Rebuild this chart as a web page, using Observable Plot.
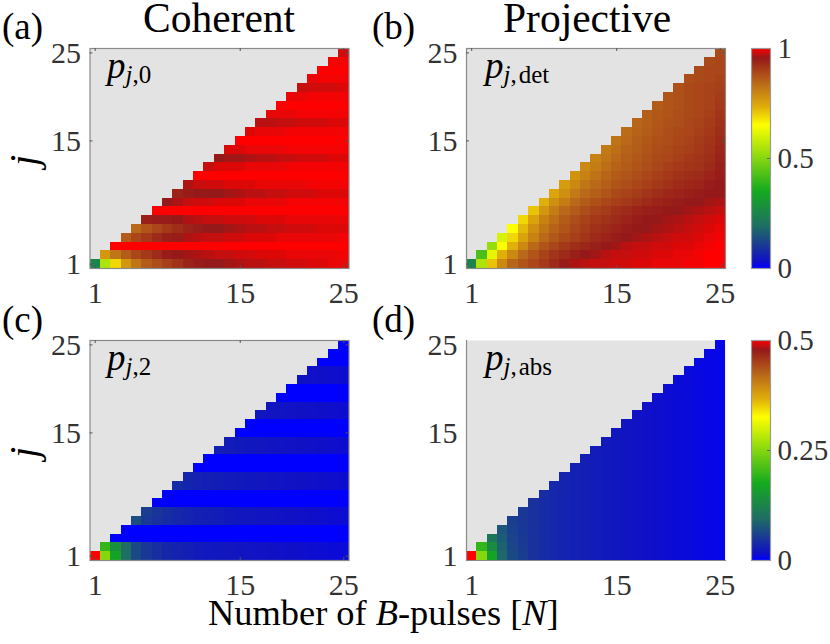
<!DOCTYPE html>
<html><head><meta charset="utf-8">
<script src="https://cdn.jsdelivr.net/npm/d3@7"></script>
<script src="https://cdn.jsdelivr.net/npm/@observablehq/plot@0.6"></script>
<style>
html,body{margin:0;padding:0;background:#fff}
#page{position:relative;width:830px;height:644px;overflow:hidden;font-family:"Liberation Serif",serif;color:#000}
#page svg{position:absolute;overflow:visible;background:transparent}
.t{position:absolute;line-height:0;white-space:nowrap}
</style></head><body><div id="page"></div>
<script>
const tickValues=[1,15,25];
const cmapStops=[0,.03,.1,.19,.35,.5,.65,.73,.84,.955,1];
const cmapColors=["#0000ff","#0f0fc8","#193796","#1e6e64","#14aa1e","#87d70f","#ffff00","#e1af0a","#b96919","#961919","#ff0000"];

const rowsA=[
[.25,.55,.69,.77,.82,.86,.88,.90,.92,.94,.95,.955,.955,.96,.965,.97,.97,.975,.975,.98,.98,.985,.985,.99,.99],
[.77,.82,.86,.89,.91,.93,.95,.955,.96,.965,.97,.975,.975,.98,.98,.985,.985,.985,.99,.99,.99,.99,.99,.995],
[1,1,1,1,1,1,1,1,1,1,1,1,1,1,1,1,1,1,1,1,1,1,1],
[.86,.89,.91,.93,.945,.95,.965,.97,.975,.975,.98,.98,.985,.985,.985,.99,.99,.99,.99,.99,.99,.995],
[.84,.87,.89,.91,.925,.94,.95,.955,.955,.96,.965,.97,.97,.975,.975,.98,.98,.98,.985,.985,.985],
[.945,.95,.95,.955,.965,.97,.975,.975,.98,.98,.98,.985,.985,.985,.99,.99,.99,.99,.99,.99],
[1,1,1,1,1,1,1,1,1,1,1,1,1,1,1,1,1,1,1],
[.955,.965,.975,.98,.98,.985,.985,.985,.99,.99,.99,.99,.995,.995,.995,.995,.995,.995],
[.94,.95,.955,.955,.955,.96,.965,.97,.97,.975,.975,.98,.98,.98,.985,.985,.985],
[.965,.975,.98,.98,.985,.985,.985,.99,.99,.99,.99,.99,.995,.995,.995,.995],
[1,1,1,1,1,1,1,1,1,1,1,1,1,1,1],
[.975,.985,.985,.985,.99,.99,.99,.99,.995,.995,.995,.995,.995,.995],
[.955,.96,.96,.965,.97,.97,.975,.975,.98,.98,.98,.985,.985],
[.985,.985,.99,.99,.99,.99,.995,.995,.995,.995,.995,.995],
[1,1,1,1,1,1,1,1,1,1,1],
[.985,.99,.99,.99,.995,.995,.995,.995,.995,.995],
[.97,.97,.975,.975,.98,.98,.98,.985,.985],
[.99,.99,.99,.995,.995,.995,.995,.995],
[1,1,1,1,1,1,1],
[.99,.99,.995,.995,.995,.995],
[.975,.98,.98,.98,.985],
[.99,.995,.995,.995],
[1,1,1],
[.995,.995],
[.98]];

const rowsB=[
[.25,.55,.71,.79,.845,.87,.89,.91,.93,.95,.965,.97,.975,.975,.98,.98,.985,.985,.99,.99,.99,.995,.995,1,1],
[.42,.62,.73,.79,.84,.87,.895,.915,.93,.945,.955,.96,.97,.975,.975,.98,.98,.985,.985,.99,.99,.995,1,1],
[.52,.65,.73,.79,.84,.87,.89,.91,.925,.935,.945,.955,.96,.97,.975,.975,.98,.98,.985,.985,.99,.995,1],
[.60,.69,.75,.80,.84,.865,.885,.90,.915,.93,.94,.95,.955,.96,.965,.97,.975,.98,.98,.985,.99,.995],
[.65,.72,.78,.82,.85,.87,.89,.905,.92,.93,.94,.95,.955,.955,.96,.965,.97,.975,.98,.985,.99],
[.69,.75,.80,.83,.86,.88,.895,.91,.92,.93,.94,.95,.955,.955,.96,.965,.97,.975,.98,.985],
[.71,.77,.81,.84,.86,.88,.895,.905,.92,.93,.94,.945,.95,.955,.955,.96,.965,.97,.975],
[.73,.78,.81,.84,.86,.875,.89,.90,.91,.92,.93,.94,.945,.95,.955,.955,.96,.965],
[.745,.78,.815,.84,.855,.87,.885,.895,.905,.915,.925,.935,.94,.945,.95,.955,.955],
[.76,.79,.82,.84,.855,.87,.88,.89,.90,.91,.92,.93,.935,.94,.95,.955],
[.775,.80,.825,.845,.86,.87,.88,.89,.90,.91,.92,.925,.93,.94,.95],
[.79,.81,.83,.85,.86,.87,.88,.89,.90,.91,.915,.92,.93,.945],
[.80,.82,.84,.855,.865,.875,.885,.89,.90,.91,.915,.925,.94],
[.815,.83,.85,.86,.87,.88,.885,.895,.90,.91,.92,.935],
[.825,.84,.855,.865,.875,.88,.89,.895,.905,.915,.93],
[.835,.85,.86,.87,.88,.885,.89,.90,.91,.925],
[.845,.855,.865,.875,.88,.89,.895,.905,.92],
[.855,.865,.87,.88,.885,.89,.90,.915],
[.86,.87,.875,.885,.89,.895,.91],
[.87,.875,.885,.89,.895,.905],
[.875,.885,.89,.895,.90],
[.88,.885,.89,.895],
[.885,.89,.89],
[.885,.89],
[.885]];

const rowsC=[
[.5,.25,.165,.095,.065,.05,.042,.035,.032,.028,.025,.023,.022,.021,.02,.019,.018,.017,.016,.015,.014,.013,.012,.011,.01],
[.195,.14,.095,.065,.05,.042,.035,.032,.028,.025,.023,.022,.021,.02,.019,.018,.017,.016,.015,.014,.013,.012,.011,.01],
[0,0,0,0,0,0,0,0,0,0,0,0,0,0,0,0,0,0,0,0,0,0,0],
[0,0,0,0,0,0,0,0,0,0,0,0,0,0,0,0,0,0,0,0,0,0],
[.07,.052,.045,.04,.036,.033,.03,.028,.026,.024,.022,.021,.02,.019,.018,.017,.016,.015,.014,.013,.012],
[.055,.048,.042,.037,.033,.03,.028,.026,.024,.022,.021,.02,.019,.018,.017,.016,.015,.014,.013,.012],
[0,0,0,0,0,0,0,0,0,0,0,0,0,0,0,0,0,0,0],
[0,0,0,0,0,0,0,0,0,0,0,0,0,0,0,0,0,0],
[.038,.034,.031,.029,.027,.025,.024,.022,.021,.02,.019,.018,.017,.016,.015,.014,.013],
[.034,.031,.029,.027,.025,.024,.022,.021,.02,.019,.018,.017,.016,.015,.014,.013],
[0,0,0,0,0,0,0,0,0,0,0,0,0,0,0],
[0,0,0,0,0,0,0,0,0,0,0,0,0,0],
[.028,.026,.024,.022,.021,.02,.019,.018,.017,.016,.015,.014,.013],
[.026,.024,.022,.021,.02,.019,.018,.017,.016,.015,.014,.013],
[0,0,0,0,0,0,0,0,0,0,0],
[0,0,0,0,0,0,0,0,0,0],
[.022,.02,.019,.018,.017,.016,.015,.014,.013],
[.02,.019,.018,.017,.016,.015,.014,.013],
[0,0,0,0,0,0,0],
[0,0,0,0,0,0],
[.017,.016,.015,.014,.013],
[.016,.015,.014,.013],
[0,0,0],
[0,0],
[0]];

const rowsD=[
[.5,.25,.165,.09,.065,.055,.045,.04,.036,.033,.03,.028,.026,.024,.022,.02,.018,.016,.014,.012,.011,.01,.008,.007,.006],
[.195,.135,.085,.062,.053,.045,.04,.036,.033,.03,.028,.026,.024,.022,.02,.018,.016,.014,.012,.011,.01,.008,.007,.006],
[.105,.08,.06,.052,.045,.04,.036,.033,.03,.028,.026,.024,.022,.02,.018,.016,.014,.012,.011,.01,.008,.007,.006],
[.075,.058,.05,.045,.04,.036,.033,.03,.028,.026,.024,.022,.02,.018,.016,.014,.012,.011,.01,.008,.007,.006],
[.056,.05,.045,.04,.036,.033,.03,.028,.026,.024,.022,.02,.018,.016,.014,.012,.011,.01,.008,.007,.006],
[.05,.045,.04,.036,.033,.03,.028,.026,.024,.022,.02,.018,.016,.014,.012,.011,.01,.008,.007,.006],
[.045,.04,.036,.033,.03,.028,.026,.024,.022,.02,.018,.016,.014,.012,.011,.01,.008,.007,.006],
[.04,.036,.033,.03,.028,.026,.024,.022,.02,.018,.016,.014,.012,.011,.01,.008,.007,.006],
[.036,.033,.03,.028,.026,.024,.022,.02,.018,.016,.014,.012,.011,.01,.008,.007,.006],
[.033,.03,.028,.026,.024,.022,.02,.018,.016,.014,.012,.011,.01,.008,.007,.006],
[.03,.028,.026,.024,.022,.02,.018,.016,.014,.012,.011,.01,.008,.007,.006],
[.028,.026,.024,.022,.02,.018,.016,.014,.012,.011,.01,.008,.007,.006],
[.026,.024,.022,.02,.018,.016,.014,.012,.011,.01,.008,.007,.006],
[.024,.022,.02,.018,.016,.014,.012,.011,.01,.008,.007,.006],
[.022,.02,.018,.016,.014,.012,.011,.01,.008,.007,.006],
[.02,.018,.016,.014,.012,.011,.01,.008,.007,.006],
[.018,.016,.014,.012,.011,.01,.008,.007,.006],
[.016,.014,.012,.011,.01,.008,.007,.006],
[.014,.012,.011,.01,.008,.007,.006],
[.012,.011,.01,.008,.007,.006],
[.011,.01,.008,.007,.006],
[.01,.008,.007,.006],
[.008,.007,.006],
[.007,.006],
[.006]];

const page=document.getElementById("page");
const FONT='"Liberation Serif",serif', INK="#333", EDGE="#8a8a8a";
const Ns=d3.range(1,26);
const tidy=rows=>rows.flatMap((r,i)=>r.map((v,k)=>({N:i+1+k,j:i+1,v})));
const scaleFor=max=>({type:"linear",domain:cmapStops.map(s=>s*max),range:cmapColors,clamp:true,interpolate:"rgb"});

function panel(rows,max,left,top,opt={}){
  const W=259,H=220;
  const marks=[
    Plot.frame({fill:"#e3e3e3",stroke:"none"}),
    Plot.cell(tidy(rows),{x:"N",y:"j",fill:"v",shapeRendering:"crispEdges"}),
    opt.open?Plot.frame({anchor:"left",stroke:EDGE,strokeWidth:1.2}):Plot.frame({stroke:EDGE,strokeWidth:1.2}),
    opt.open?Plot.frame({anchor:"bottom",stroke:EDGE,strokeWidth:1.2}):null,
    Plot.axisX({ticks:tickValues,label:null,tickSize:0,tickPadding:13,fontSize:30,fill:INK,lineAnchor:"top",textAnchor:"middle"}),
    Plot.axisY({ticks:tickValues,label:null,tickSize:0,tickPadding:9,fontSize:30,fill:INK})
  ];
  if(!opt.open){
    marks.push(Plot.tickX(tickValues,{x:d=>d,stroke:"#555",insetTop:H-3}));
    marks.push(Plot.tickX(tickValues,{x:d=>d,stroke:"#555",insetBottom:H-3}));
    marks.push(Plot.tickY(tickValues,{y:d=>d,stroke:"#555",insetLeft:W-3}));
    marks.push(Plot.tickY(tickValues,{y:d=>d,stroke:"#555",insetRight:W-3}));
  }
  const svg=Plot.plot({
    width:left+W+25,height:top+H+45,
    marginLeft:left,marginRight:25,marginTop:top,marginBottom:45,
    x:{type:"band",domain:Ns,padding:0,round:false,axis:null},
    y:{type:"band",domain:Ns.slice().reverse(),padding:0,round:false,axis:null},
    color:scaleFor(max),
    style:{fontFamily:FONT,background:"transparent"},
    marks
  });
  svg.style.left="0px";svg.style.top="0px";
  page.appendChild(svg);
}

function colorbar(max,ticks,top){
  const step=max/220;
  const ramp=d3.range(0,max,step);
  const svg=Plot.plot({
    width:830,height:top+220+35,
    marginLeft:751,marginRight:60,marginTop:top,marginBottom:35,
    x:{domain:[0,1],axis:null},
    y:{domain:[0,max],axis:null},
    color:scaleFor(max),
    style:{fontFamily:FONT,background:"transparent"},
    marks:[
      Plot.rect(ramp,{x1:0,x2:1,y1:d=>d,y2:d=>d+step,fill:d=>d+step/2,shapeRendering:"crispEdges"}),
      Plot.frame({stroke:"#9a9a9a",strokeWidth:1.2}),
      Plot.axisY({anchor:"right",ticks,label:null,tickSize:0,tickPadding:7,fontSize:29,fill:INK,textAnchor:"start",tickFormat:d=>String(d)}),
      Plot.tickY([ticks[1]],{y:d=>d,stroke:"#666",insetLeft:16})
    ]
  });
  svg.style.left="0px";svg.style.top="0px";
  page.appendChild(svg);
}

panel(rowsA,1,89.5,48);
panel(rowsB,1,466,48);
panel(rowsC,.5,89.5,340);
panel(rowsD,.5,466,340,{open:true});
colorbar(1,[0,.5,1],48);
colorbar(.5,[0,.25,.5],340);

function text(html,x,base,size,extra=""){
  const d=document.createElement("div");
  d.className="t";
  d.innerHTML=html;
  d.style.cssText=`left:${x}px;top:${base-0.3375*size}px;font-size:${size}px;${extra}`;
  page.appendChild(d);
  return d;
}
text("Coherent",143,32,41.5);
text("Projective",503,32,41.5);
text("(a)",2,39,37);text("(b)",372,39,37);
text("(c)",2,332,37);text("(d)",372,332,37);
text('Number of <i>B</i>-pulses [<i>N</i>]',208,625,36.4);

const sub=(tail)=>`<i>p</i><span style="font-size:25px;position:relative;top:5px"><i>j</i><span style="font-size:25px">,</span>${tail}</span>`;
text(sub('0'),107,78,37);
text(sub('<span style="margin-left:2px">det</span>'),485,78,37);
text(sub('2'),107,370,37);
text(sub('<span style="margin-left:2px">abs</span>'),485,370,37);

[179.5,471.5].forEach(y=>{
  const d=text("<i>j</i>",24,y,40);
  d.style.transformOrigin="0 0";
  d.style.transform="rotate(-90deg)";
});
</script></body></html>
